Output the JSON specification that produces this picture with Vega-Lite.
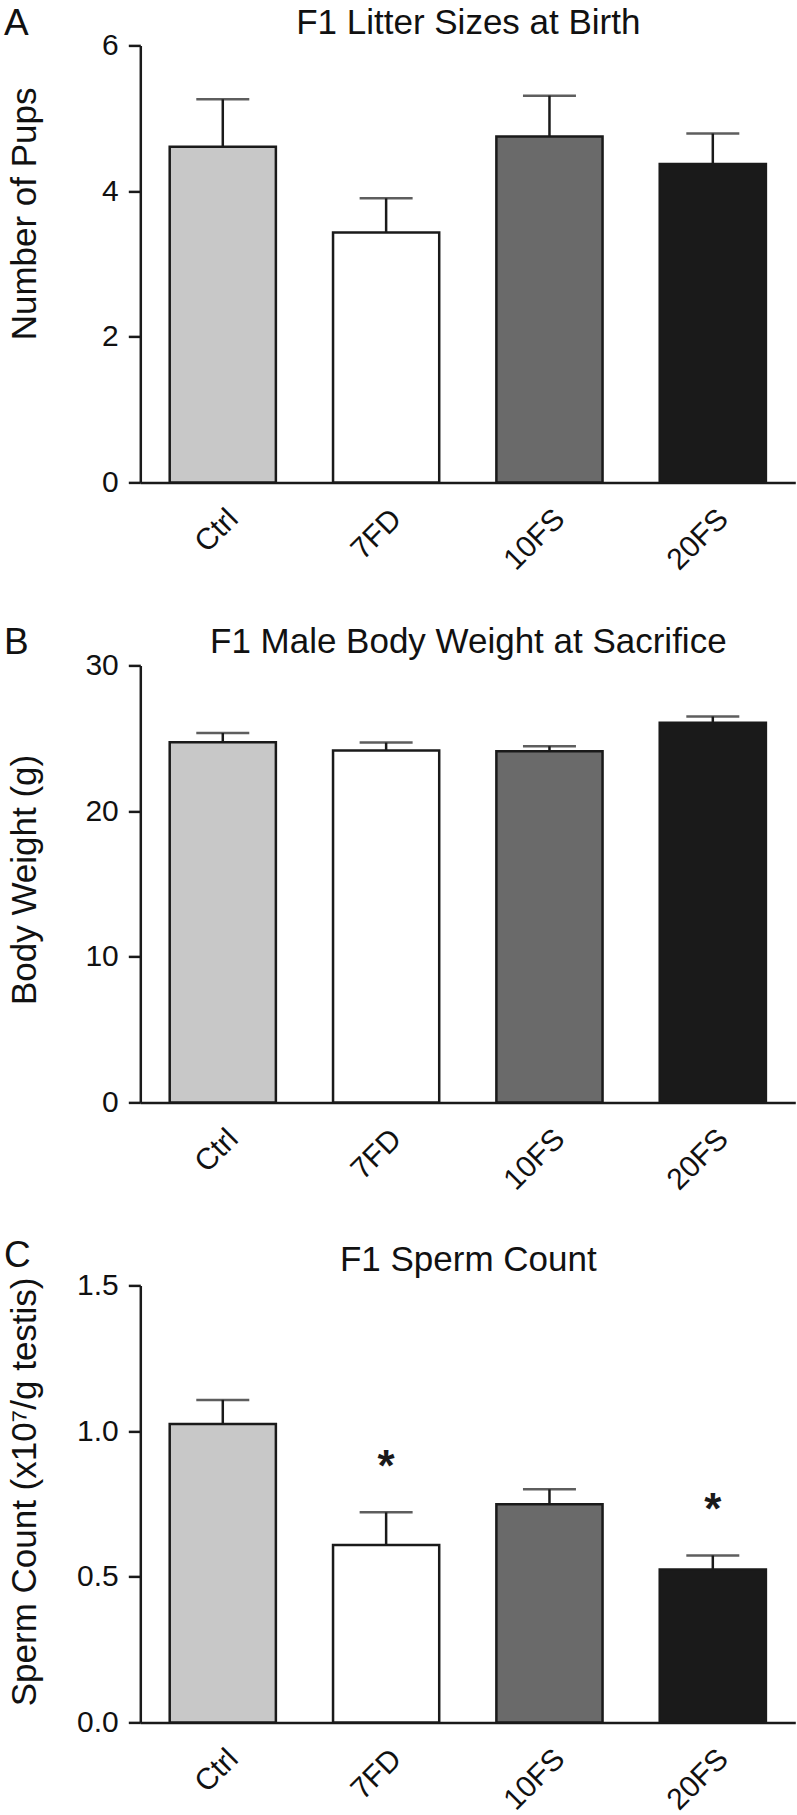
{
  "$schema": "https://vega.github.io/schema/vega-lite/v6.json",
  "background": "white",
  "padding": {"left": 3.3, "top": 4.4, "right": 2, "bottom": 5},
  "spacing": 183,
  "bounds": "flush",
  "config": {
    "view": {"stroke": null},
    "font": "Liberation Sans",
    "axis": {
      "grid": false,
      "domainColor": "#1a1a1a",
      "domainWidth": 2.5,
      "tickColor": "#1a1a1a",
      "tickWidth": 2.5,
      "labelFont": "Liberation Sans",
      "labelColor": "#111111",
      "titleFont": "Liberation Sans",
      "titleColor": "#111111",
      "titleFontWeight": "normal"
    },
    "axisBottom": {
      "ticks": false,
      "tickSize": 0,
      "labelAngle": -45,
      "labelFontSize": 30,
      "labelPadding": 21
    },
    "axisTop": {
      "labels": false,
      "ticks": false,
      "domain": false,
      "titleAngle": 0,
      "titleBaseline": "alphabetic"
    },
    "axisLeft": {
      "tickSize": 12,
      "labelFontSize": 30,
      "labelPadding": 10,
      "titleFontSize": 35,
      "titleX": -105,
      "titleBaseline": "alphabetic"
    }
  },
  "vconcat": [
    {
      "width": 655,
      "height": 437,
      "data": {"values": [
        {"group": "Ctrl", "mean": 4.61, "upper": 5.26},
        {"group": "7FD", "mean": 3.43, "upper": 3.90},
        {"group": "10FS", "mean": 4.75, "upper": 5.31},
        {"group": "20FS", "mean": 4.37, "upper": 4.79}
      ]},
      "layer": [
        {
          "mark": {"type": "bar", "stroke": "#1a1a1a", "strokeWidth": 2.5},
          "encoding": {
            "x": {"field": "group", "type": "nominal", "sort": null, "title": null,
                  "scale": {"paddingInner": 0.35, "paddingOuter": 0.18}},
            "y": {"field": "mean", "type": "quantitative", "title": "Number of Pups",
                  "scale": {"domain": [0, 6], "nice": false},
                  "axis": {"orient": "left", "values": [0, 2, 4, 6], "format": "d", "titleY": 168}},
            "fill": {"field": "group", "type": "nominal", "legend": null,
                     "scale": {"domain": ["Ctrl", "7FD", "10FS", "20FS"], "range": ["#c8c8c8", "#ffffff", "#6a6a6a", "#1a1a1a"]}}
          }
        },
        {
          "mark": {"type": "rule", "color": "#1a1a1a", "strokeWidth": 2.5},
          "encoding": {
            "x": {"field": "group", "type": "nominal", "sort": null,
                  "axis": {"orient": "top", "title": "F1 Litter Sizes at Birth", "titleFontSize": 35, "titleY": -11.6}},
            "y": {"field": "mean", "type": "quantitative", "title": "Number of Pups"},
            "y2": {"field": "upper"}
          }
        },
        {
          "mark": {"type": "tick", "color": "#1a1a1a", "thickness": 2.5, "size": 53, "orient": "horizontal"},
          "encoding": {
            "x": {"field": "group", "type": "nominal", "sort": null,
                  "axis": {"orient": "top", "title": "A", "titleFontSize": 37, "titleAnchor": "start", "titleAlign": "left", "titleX": -136.7, "titleY": -10.5}},
            "y": {"field": "upper", "type": "quantitative", "title": "Number of Pups"}
          }
        }
      ],
      "resolve": {"axis": {"x": "independent"}}
    },
    {
      "width": 655,
      "height": 437,
      "data": {"values": [
        {"group": "Ctrl", "mean": 24.72, "upper": 25.36},
        {"group": "7FD", "mean": 24.16, "upper": 24.70},
        {"group": "10FS", "mean": 24.11, "upper": 24.45},
        {"group": "20FS", "mean": 26.07, "upper": 26.49}
      ]},
      "layer": [
        {
          "mark": {"type": "bar", "stroke": "#1a1a1a", "strokeWidth": 2.5},
          "encoding": {
            "x": {"field": "group", "type": "nominal", "sort": null, "title": null,
                  "scale": {"paddingInner": 0.35, "paddingOuter": 0.18}},
            "y": {"field": "mean", "type": "quantitative", "title": "Body Weight (g)",
                  "scale": {"domain": [0, 30], "nice": false},
                  "axis": {"orient": "left", "values": [0, 10, 20, 30], "format": "d", "titleY": 214}},
            "fill": {"field": "group", "type": "nominal", "legend": null,
                     "scale": {"domain": ["Ctrl", "7FD", "10FS", "20FS"], "range": ["#c8c8c8", "#ffffff", "#6a6a6a", "#1a1a1a"]}}
          }
        },
        {
          "mark": {"type": "rule", "color": "#1a1a1a", "strokeWidth": 2.5},
          "encoding": {
            "x": {"field": "group", "type": "nominal", "sort": null,
                  "axis": {"orient": "top", "title": "F1 Male Body Weight at Sacrifice", "titleFontSize": 35, "titleY": -13}},
            "y": {"field": "mean", "type": "quantitative", "title": "Body Weight (g)"},
            "y2": {"field": "upper"}
          }
        },
        {
          "mark": {"type": "tick", "color": "#1a1a1a", "thickness": 2.5, "size": 53, "orient": "horizontal"},
          "encoding": {
            "x": {"field": "group", "type": "nominal", "sort": null,
                  "axis": {"orient": "top", "title": "B", "titleFontSize": 37, "titleAnchor": "start", "titleAlign": "left", "titleX": -136.7, "titleY": -11.5}},
            "y": {"field": "upper", "type": "quantitative", "title": "Body Weight (g)"}
          }
        }
      ],
      "resolve": {"axis": {"x": "independent"}}
    },
    {
      "width": 655,
      "height": 437,
      "data": {"values": [
        {"group": "Ctrl", "mean": 1.024, "upper": 1.107, "sig": ""},
        {"group": "7FD", "mean": 0.609, "upper": 0.721, "sig": "*"},
        {"group": "10FS", "mean": 0.749, "upper": 0.800, "sig": ""},
        {"group": "20FS", "mean": 0.525, "upper": 0.573, "sig": "*"}
      ]},
      "layer": [
        {
          "mark": {"type": "bar", "stroke": "#1a1a1a", "strokeWidth": 2.5},
          "encoding": {
            "x": {"field": "group", "type": "nominal", "sort": null, "title": null,
                  "scale": {"paddingInner": 0.35, "paddingOuter": 0.18}},
            "y": {"field": "mean", "type": "quantitative", "title": "Sperm Count (x10⁷/g testis)",
                  "scale": {"domain": [0, 1.5], "nice": false},
                  "axis": {"orient": "left", "values": [0, 0.5, 1.0, 1.5], "format": ".1f", "titleY": 206}},
            "fill": {"field": "group", "type": "nominal", "legend": null,
                     "scale": {"domain": ["Ctrl", "7FD", "10FS", "20FS"], "range": ["#c8c8c8", "#ffffff", "#6a6a6a", "#1a1a1a"]}}
          }
        },
        {
          "mark": {"type": "rule", "color": "#1a1a1a", "strokeWidth": 2.5},
          "encoding": {
            "x": {"field": "group", "type": "nominal", "sort": null,
                  "axis": {"orient": "top", "title": "F1 Sperm Count", "titleFontSize": 35, "titleY": -14.5}},
            "y": {"field": "mean", "type": "quantitative", "title": "Sperm Count (x10⁷/g testis)"},
            "y2": {"field": "upper"}
          }
        },
        {
          "mark": {"type": "tick", "color": "#1a1a1a", "thickness": 2.5, "size": 53, "orient": "horizontal"},
          "encoding": {
            "x": {"field": "group", "type": "nominal", "sort": null,
                  "axis": {"orient": "top", "title": "C", "titleFontSize": 37, "titleAnchor": "start", "titleAlign": "left", "titleX": -136.7, "titleY": -19}},
            "y": {"field": "upper", "type": "quantitative", "title": "Sperm Count (x10⁷/g testis)"}
          }
        },
        {
          "mark": {"type": "text", "fontSize": 44, "fontWeight": "bold", "color": "#1a1a1a", "baseline": "alphabetic", "dy": -31},
          "encoding": {
            "x": {"field": "group", "type": "nominal", "sort": null, "axis": null},
            "y": {"field": "upper", "type": "quantitative", "title": "Sperm Count (x10⁷/g testis)"},
            "text": {"field": "sig"}
          }
        }
      ],
      "resolve": {"axis": {"x": "independent"}}
    }
  ]
}
